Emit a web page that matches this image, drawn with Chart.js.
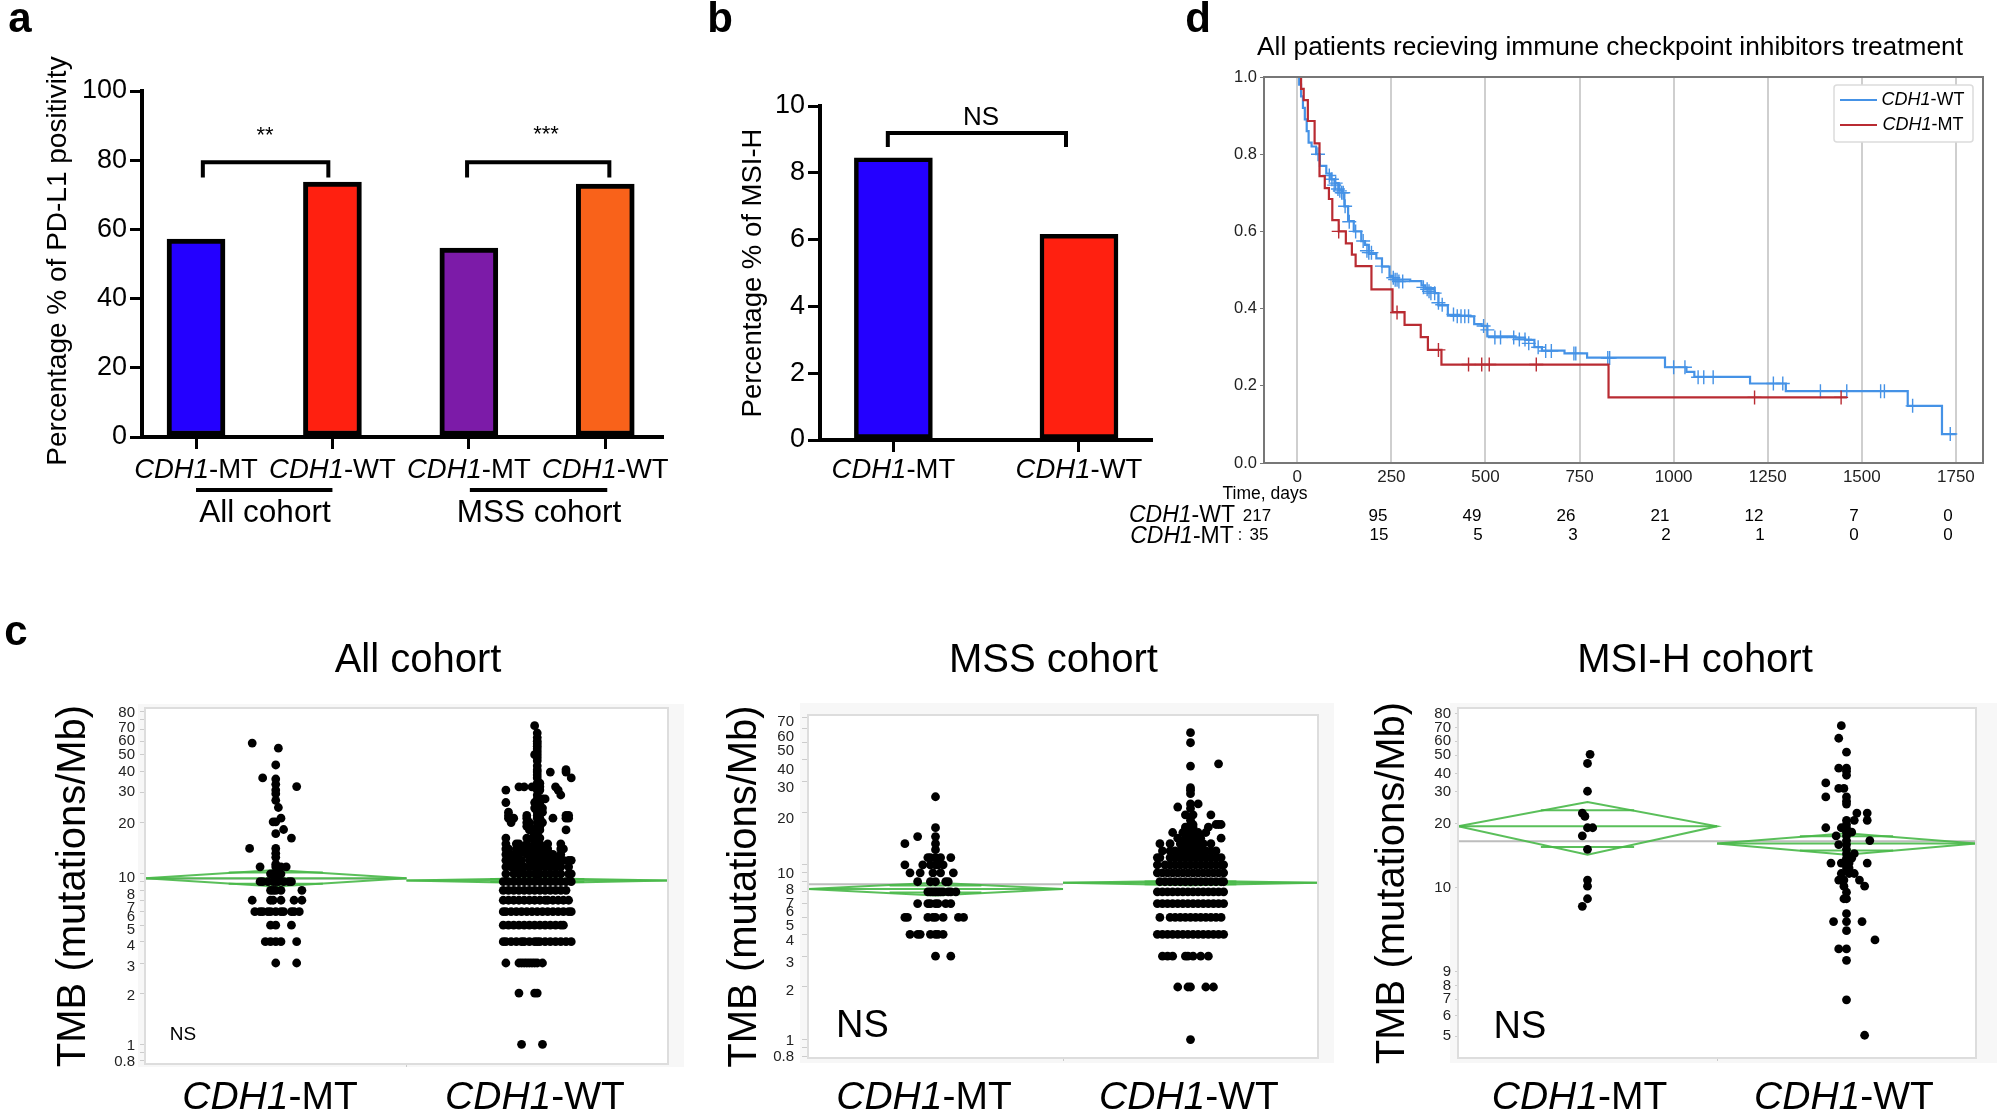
<!DOCTYPE html>
<html><head><meta charset="utf-8">
<script src="https://cdn.jsdelivr.net/npm/chart.js@4"></script>
<style>html,body{margin:0;padding:0;background:#fff;width:2000px;height:1114px;overflow:hidden}canvas{position:absolute;display:block}</style>
</head><body>
<script>
// ---------- data ----------
const genotypes = ['CDH1-MT','CDH1-WT'];
const pdl1Categories = ['CDH1-MT','CDH1-WT','CDH1-MT','CDH1-WT'];
const pdl1Values = [57.2,73.7,54.6,73.1];
const pdl1Cohorts = ['All cohort','MSS cohort'];
const msiValues = [8.45,6.16];
const pdl1Ticks = [0,20,40,60,80,100];
const msiTicks = [0,2,4,6,8,10];

const kmTicksX = [0,250,500,750,1000,1250,1500,1750];
const kmTicksY = [0,0.2,0.4,0.6,0.8,1];
const wtTime = [0,5,10,15,20,25,30,38,50,60,77,90,100,110,120,125,135,150,170,180,190,210,225,245,255,300,330,340,365,375,400,460,470,490,505,580,605,630,650,710,770,977,1034,1055,1203,1298,1622,1713,1750];
const wtSurv = [1,.98,.95,.92,.89,.86,.83,.82,.80,.77,.75,.735,.725,.707,.70,.665,.627,.60,.575,.565,.542,.53,.509,.485,.475,.471,.46,.453,.44,.408,.382,.38,.36,.355,.328,.325,.319,.30,.291,.284,.273,.248,.236,.223,.206,.186,.148,.075,.075];
const mtTime = [0,7,10,17,28,46,59,73,84,93,110,129,145,155,197,253,285,328,347,383,827,1460];
const mtSurv = [1,1,.969,.94,.886,.828,.743,.712,.684,.629,.60,.569,.54,.51,.45,.391,.358,.326,.293,.255,.17,.17];
const wtCensorT = [55,85,92,98,102,108,113,118,122,127,138,155,175,185,190,197,225,255,260,265,270,280,335,345,350,355,365,375,385,415,425,435,445,455,495,505,525,540,575,590,605,615,640,660,675,735,740,825,830,1000,1030,1065,1080,1105,1265,1290,1390,1460,1550,1560,1635,1735];
const wtCensorS = [.80,.745,.735,.72,.725,.71,.705,.70,.70,.665,.625,.60,.575,.55,.545,.545,.51,.48,.475,.475,.47,.47,.455,.45,.445,.44,.44,.415,.41,.385,.38,.38,.38,.38,.355,.345,.325,.325,.325,.32,.32,.31,.30,.29,.29,.284,.284,.272,.272,.248,.248,.222,.222,.222,.206,.206,.186,.186,.186,.186,.148,.075];
const mtCensorT = [110,265,375,455,490,510,635,1215,1445];
const mtCensorS = [.60,.39,.293,.255,.255,.255,.255,.17,.17];
const riskWT = ['217','95','49','26','21','12','7','0'];
const riskMT = ['35','15','5','3','2','1','0','0'];

const tmbTicksAll = [0.8,0.9,1,2,3,4,5,6,7,8,9,10,20,30,40,50,60,70,80,90];
const tmbTicksMss = [0.8,0.9,1,2,3,4,5,6,7,8,9,10,20,30,40,50,60,70];
const tmbTicksMsi = [2.01,2.51,3,3.47,4.03,10,20,28.3,34.5,42.1,49,56.9,66];
const tmbLabelsMsi = ['5','6','7','8','9','10','20','30','40','50','60','70','80'];

// [value, horizontal jitter in hundredths of a column]
const allMT = [[58.5,[-9]],[54.6,[1]],[43.5,[0]],[36.5,[-5]],[36,[0]],[33.5,[0]],[32.5,[8]],[31,[0]],[29.5,[0]],[27,[0]],[24.5,[1]],[21.2,[2]],[20.2,[0,-1]],[18.2,[3]],[17.2,[0]],[16.2,[6]],[14.1,[-10,0]],[13.2,[0]],[12.5,[0]],[11.4,[0]],[11,[-6,0,2,4]],[10,[-2,0,2,-1,1]],[9,[-6,-5,-3,-1,0,1,3,5,6]],[8,[-2,-1,0,2,10]],[7,[-9,-2,-1,2,7,10]],[6,[-8,-6,-5,-3,-2,0,2,3,6,7,9]],[5,[-2,0,6]],[4,[-4,-2,0,2,8]],[3,[0,8]]];
const allWT = [[1,[-6,2]],[2,[-7,-1,0]],[3,[-12,-7,-6,-5,-4,-3,-2,-1,0,2]],
[4,[-13,-12,-10,-8,-6,-5,-3,-1,0,1,3,5,7,9,11,13]],[5,[-13,-11,-9,-7,-5,-3,-1,1,3,5,7,9,10]],
[6,[-13,-12,-10,-8,-6,-4,-2,0,2,4,6,8,10,12,13]],[7,[-13,-11,-9,-7,-5,-3,-1,1,3,4,6,8,10,12]],
[8,[-13,-11,-9,-7,-5,-3,-1,1,3,5,7,9,11]],[9,[-13,-11,-9,-7,-5,-3,-1,1,3,5,7,9,11,13]],
[10,[-12,-9,-7,-5,-3,-1,0,1,3,5,7,9,12,13]],[11,[-12,-10,-8,-6,-5,-3,-1,0,1,3,5,7,9,12]],
[12,[-12,-11,-9,-7,-6,-3,-2,0,1,3,5,7,8,10,12,13]],[13,[-12,-10,-8,-7,-4,-2,0,1,3,5,6,9]],
[14,[-12,-11,-8,-6,-4,-2,0,2,4,9,10]],[15,[-12,-8,-7,-4,-1,0,1,4,9]],[16.2,[-12,-4,-2,0,1]],[17,[-1,0]],
[18.1,[-3,-1,0,1,11]],[19,[-4,-3,0,1]],[20,[-10,-4,-3,0,1,2]],[21.2,[-11,-9,-4,0,1,6,11,12]],[22,[-11,-4,0,11,12]],
[23,[-11,0,1,2]],[24.3,[-1,0,1,2]],[26.2,[-12,-1,0,1]],[27.5,[0,1,2,3]],[29,[9,0]],[31,[8,0,1,-12]],[32.4,[-7,-5,-2,0,1,7]],
[34,[0,1]],[36.5,[0,13]],[38,[0]],[39.5,[0,5,11]],[40.8,[0,11]],[43,[0]],[46,[0]],[48,[0]],[50,[-1,0]],[52,[0]],[54,[0]],[56,[0]],[58,[0]],[60,[0]],[63,[0]],[67,[0]],[74,[-1]]];

const mssMT = [[24.5,[0]],[16.3,[0]],[14.5,[-7,0]],[13.2,[-12,0]],[12.2,[0]],[11,[-3,0,2,6,-2]],[10,[-12,-5,-2,0,3,1]],[9,[-10,-6,-1,2,7]],[8,[-7,-2,0,4,5]],[7,[-3,-2,-1,0,1,2,3,5,6,8]],[6,[-7,-3,-2,0,1,4,6]],[5,[-12,-11,-3,-1,0,3,9,11]],[4,[-10,-7,-6,-2,0,1,3]],[3,[0,6]]];
const mssWT = [[1,[0]],[2,[-5,-1,0,6,9]],[3,[-11,-9,-7,-2,-1,1,4,7]],[4,[-13,-11,-9,-7,-5,-3,-1,1,3,5,7,9,11,13]],
[5,[-12,-8,-6,-4,-2,0,2,4,6,8,10,12]],[6,[-13,-11,-9,-7,-5,-3,-1,1,3,5,7,9,11,13]],[7,[-13,-11,-9,-7,-5,-3,-1,1,3,5,7,9,11,13]],
[8,[-12,-10,-8,-6,-4,-2,0,2,4,6,8,10,12,13]],[9,[-13,-11,-9,-7,-5,-3,-1,1,3,5,7,9,11,13]],[10,[-13,-10,-8,-6,-4,-2,0,2,4,6,8,10,12,13]],
[11,[-13,-12,-8,-6,-4,-2,0,2,4,6,8,10,12]],[12,[-11,-8,-6,-4,-3,-2,-1,0,1,2,3,4,6,8,10]],[13.2,[-12,-8,-4,-3,-2,-1,0,1,2,3,4,5,8]],
[14.2,[-5,-2,-1,0,1,2,3,4,12]],[15.3,[-7,-3,-1,0,1,3,6]],[16.4,[-2,-1,0,1,7]],[17,[0,1,10,11,12]],[18,[0]],[19.3,[-2,1,8]],[21,[0]],[21.4,[-5]],[22.3,[0,3]],[25.5,[0]],[26.7,[0]],[27.6,[0]],[36.7,[0]],[37.8,[11]],[49.9,[0]],[57,[0]]];

const msiMT = [[42.5,[1]],[38.5,[0]],[28.5,[0]],[22.5,[-2]],[21.7,[-1]],[19.2,[0,2]],[17.6,[-2]],[15.2,[0]],[10.9,[0]],[10.2,[0]],[8.9,[0]],[8.2,[-2]]];
const msiWT = [[58,[-2]],[50.6,[-3]],[43.5,[0]],[36.6,[-3,0]],[35.4,[0]],[33.9,[0]],[31.2,[-8]],[29.4,[-3,-1]],[26.8,[-8,0]],[25.6,[0]],[24.8,[0]],[22.5,[4,8]],[20.8,[3,8,0]],[19.9,[0]],[19.2,[-8,-2,0]],[18.3,[0,2]],[17.6,[-4,0]],[16.7,[9,0]],[16,[-3,0]],[15.2,[0]],[14.5,[0,3]],[13.8,[0,2]],[13.1,[-6,-2,1,8]],[12.4,[1,0]],[11.7,[-2,1,3]],[10.9,[-3,-1,5]],[10.2,[-1,7]],[9.55,[0]],[8.9,[0,-1]],[7.57,[0]],[6.95,[-5,0,6]],[6.3,[0]],[5.7,[11]],[5.17,[-3,0]],[4.57,[0]],[2.98,[0]],[2.03,[7]]];

// mean, diamond top, diamond bottom, overlap top, overlap bottom
const allDiamondMT = [9.43,10.55,8.43,10.2,8.74];
const allDiamondWT = [9.14,9.43,8.82,9.33,8.95];
const mssDiamondMT = [7.26,7.89,6.67,7.61,6.94];
const mssDiamondWT = [7.89,8.1,7.65,8.02,7.75];
const msiDiamondMT = [19.5,25.4,14.35,23.2,15.6];
const msiDiamondWT = [16.2,18.1,14.35,17.5,15];
const allGrand = 9.35, mssGrand = 7.75, msiGrand = 16.6;

// ---------- helpers ----------
const FF = '"Liberation Sans", Arial, sans-serif';
const font = (size, style='') => `${style} ${size}px ${FF}`;

function rich(ctx, text, x, y, size) {
  const k = text.indexOf('-');
  const segs = text.startsWith('CDH1') && k > 0 ? [[text.slice(0,k),true],[text.slice(k),false]] : [[text,false]];
  ctx.textBaseline = 'middle'; ctx.textAlign = 'left';
  let w = 0;
  segs.forEach(s => { ctx.font = font(size, s[1]?'italic':''); w += ctx.measureText(s[0]).width; });
  let cx = x - w/2;
  segs.forEach(s => { ctx.font = font(size, s[1]?'italic':''); ctx.fillText(s[0], cx, y); cx += ctx.measureText(s[0]).width; });
}
function plain(ctx, text, x, y, f, align='center') {
  ctx.font = f; ctx.textAlign = align; ctx.textBaseline = 'middle'; ctx.fillText(text, x, y);
}
function place(box, area, cfg, under, over) {
  const c = document.createElement('canvas');
  c.width = box.w; c.height = box.h;
  c.style.left = box.x+'px'; c.style.top = box.y+'px'; c.style.width = box.w+'px'; c.style.height = box.h+'px';
  document.body.appendChild(c);
  const o = cfg.options;
  o.responsive = false; o.animation = false; o.maintainAspectRatio = false;
  o.layout = {padding:{top:area.t-box.y, right:box.x+box.w-area.r, left:0, bottom:0}};
  o.plugins = {legend:{display:false}, tooltip:{enabled:false}};
  o.scales.y.afterFit = s => { s.width = area.l-box.x; };
  o.scales.x.afterFit = s => { s.height = box.y+box.h-area.b; };
  const wrap = fn => (chart) => { if(!fn) return; const g = chart.ctx; g.save(); g.translate(-box.x,-box.y); g.fillStyle='#000'; fn(g, chart, box); g.restore(); };
  cfg.plugins = [{id:'page', beforeDraw:wrap(under), afterDraw:wrap(over)}];
  return new Chart(c, cfg);
}
const tickSet = vals => s => { s.ticks = vals.map(v => ({value:v})); };

// ---------- panels a, b ----------
function barPanel(box, area, xRange, cats, vals, colors, thick, stroke, yTicks, yMax, title, titleFont, titlePos, brackets, over) {
  const datasets = [{type:'bar', data:vals.map((v,i)=>({x:i+1,y:v})), backgroundColor:colors, borderColor:'#000', borderWidth:stroke, borderSkipped:false, barThickness:thick, grouped:false, order:2}];
  brackets.forEach(b => datasets.push({type:'line', data:b, borderColor:'#000', borderWidth:4, pointRadius:0, fill:false, order:1, clip:false, borderCapStyle:'butt', borderJoinStyle:'miter', tension:0}));
  return place(box, area, {type:'bar', data:{datasets}, options:{scales:{
    x:{type:'linear', offset:false, min:xRange[0], max:xRange[1], afterBuildTicks:tickSet(cats.map((c,i)=>i+1)),
       ticks:{display:false}, grid:{offset:false, drawOnChartArea:false, color:'#000', lineWidth:3, tickLength:12}, border:{color:'#000', width:4}},
    y:{min:0, max:yMax, afterBuildTicks:tickSet(yTicks),
       ticks:{font:{family:FF,size:27}, color:'#000', padding:3},
       grid:{drawOnChartArea:false, color:'#000', lineWidth:3, tickLength:12}, border:{color:'#000', width:4}}
  }}}, null, (g, ch) => {
    const sx = ch.scales.x;
    cats.forEach((c,i) => rich(g, c, box.x+sx.getPixelForValue(i+1), 470, 27.5));
    g.save(); g.translate(titlePos[0],titlePos[1]); g.rotate(-Math.PI/2);
    plain(g,title,0,0,font(titleFont)); g.restore();
    over && over(g, ch);
  });
}
const pt = (xs, ys) => xs.map((x,i)=>({x, y:ys[i]}));

barPanel({x:0,y:0,w:700,h:530},{l:142,t:91,r:662,b:437},[0.604,4.416],pdl1Categories,pdl1Values,['#2400ff','#ff2010','#7c1ba8','#f9621a'],58,5,pdl1Ticks,100,
  'Percentage % of PD-L1 positivity',28,[58,261],
  [pt([1.05,1.05,1.97,1.97],[75,79.4,79.4,75]), pt([2.987,2.987,4.03,4.03],[75,79.4,79.4,75])],
  (g,ch) => {
    const sx = ch.scales.x, p = v => sx.getPixelForValue(v);
    plain(g,'a',20,20,font(42,'bold'));
    plain(g,'**',265,136,font(22));
    plain(g,'***',546,135,font(22));
    g.fillRect(p(1),488,p(2)-p(1),4);
    g.fillRect(p(3)+1,488,p(4)-p(3)+1,4);
    rich(g,pdl1Cohorts[0],265,513,31.5);
    rich(g,pdl1Cohorts[1],539,513,31.5);
  });
barPanel({x:700,y:0,w:460,h:530},{l:820,t:106,r:1151,b:440},[0.6046,2.388],genotypes,msiValues,['#2400ff','#ff2010'],78,4.5,msiTicks,10,
  'Percentage % of MSI-H',27.5,[753,273],
  [pt([0.97,0.97,1.93,1.93],[8.77,9.19,9.19,8.77])],
  (g) => {
    plain(g,'b',720,20,font(42,'bold'));
    plain(g,'NS',981,118,font(26));
  });

// ---------- panel d ----------
const KM_BLUE = '#4592e6', KM_RED = '#b92b32';
place({x:1125,y:0,w:875,h:545},{l:1264,t:77,r:1983,b:463},{type:'scatter', data:{datasets:[
  {data:pt(mtCensorT,mtCensorS), pointStyle:'cross', pointRadius:7, pointBorderColor:KM_RED, pointBorderWidth:1.4, backgroundColor:'transparent', order:1},
  {data:pt(mtTime,mtSurv), showLine:true, stepped:true, pointRadius:0, borderColor:KM_RED, borderWidth:2.2, order:2},
  {data:pt(wtCensorT,wtCensorS), pointStyle:'cross', pointRadius:7, pointBorderColor:KM_BLUE, pointBorderWidth:1.4, backgroundColor:'transparent', order:3},
  {data:pt(wtTime,wtSurv), showLine:true, stepped:true, pointRadius:0, borderColor:KM_BLUE, borderWidth:2.2, order:4}
]}, options:{scales:{
  x:{type:'linear', min:-88.5, max:1822, afterBuildTicks:tickSet(kmTicksX),
     ticks:{font:{family:FF,size:17}, color:'#222', padding:4, callback:v=>String(v)},
     grid:{color:'#cfcfcf', lineWidth:2, drawTicks:false, tickLength:0}, border:{color:'#777', width:2}},
  y:{min:0, max:1, afterBuildTicks:tickSet(kmTicksY),
     ticks:{font:{family:FF,size:16.5}, color:'#222', padding:3, callback:v=>Number(v).toFixed(1)},
     grid:{drawOnChartArea:false, color:'#777', lineWidth:1, tickLength:4}, border:{color:'#777', width:2}}
}}}, null, (g, ch) => {
  const a = ch.chartArea;
  g.strokeStyle = '#777'; g.lineWidth = 2; g.strokeRect(a.left+1125, a.top, a.right-a.left, a.bottom-a.top);
  g.fillStyle='#000';
  plain(g,'d',1198,20,font(42,'bold'));
  plain(g,'All patients recieving immune checkpoint inhibitors treatment',1610,48,font(26.3));
  g.fillStyle='#fff'; g.strokeStyle='#dcdcdc'; g.lineWidth=1.5;
  g.beginPath(); g.roundRect(1834,85,139,57,3); g.fill(); g.stroke();
  g.lineWidth=2;
  g.strokeStyle=KM_BLUE; g.beginPath(); g.moveTo(1840,100); g.lineTo(1877,100); g.stroke();
  g.strokeStyle=KM_RED; g.beginPath(); g.moveTo(1840,125); g.lineTo(1877,125); g.stroke();
  g.fillStyle='#000';
  rich(g,genotypes[1],1923,100,18);
  rich(g,genotypes[0],1923,125,18);
  plain(g,'Time, days',1265,494,font(17.5));
  rich(g,genotypes[1],1182,516,23);
  rich(g,genotypes[0],1182,537,23);
  plain(g,':',1240,536,font(16));
  const xW=[1257,1378,1472,1566,1660,1754,1854,1948], xM=[1259,1379,1478,1573,1666,1760,1854,1948];
  riskWT.forEach((t,i)=>plain(g,t,xW[i],516,font(17)));
  riskMT.forEach((t,i)=>plain(g,t,xM[i],535,font(17)));
});

// ---------- panels c ----------
const GREEN = 'rgba(72,184,72,.9)';
function dots(col, rows){ const out=[]; rows.forEach(r=>r[1].forEach(o=>out.push({x:col+o/100,y:r[0]}))); return out; }
function diamond(col, d, lw){
  const L = a => ({data:a, showLine:true, pointRadius:0, borderColor:GREEN, borderWidth:lw, order:5, tension:0});
  return [
    L([{x:col-.5,y:d[0]},{x:col,y:d[1]},{x:col+.5,y:d[0]},{x:col,y:d[2]},{x:col-.5,y:d[0]}]),
    L([{x:col-.5,y:d[0]},{x:col+.5,y:d[0]}]),
    L([{x:col-.18,y:d[3]},{x:col+.18,y:d[3]}]),
    L([{x:col-.18,y:d[4]},{x:col+.18,y:d[4]}])
  ];
}
function tmbPanel(p){
  const a=p.area, bx=p.box;
  place(bx, a, {type:'scatter', data:{datasets:[
    {data:dots(1,p.mt), pointRadius:4.4, backgroundColor:'#000', borderWidth:0, order:1},
    {data:dots(2,p.wt), pointRadius:4.4, backgroundColor:'#000', borderWidth:0, order:1},
    ...diamond(1,p.dMT,2), ...diamond(2,p.dWT,2),
    {data:[{x:p.grandEnd[0],y:p.grand},{x:p.grandEnd[1],y:p.grand}], showLine:true, pointRadius:0, borderColor:'#bdbdbd', borderWidth:2, order:6}
  ]}, options:{scales:{
    x:{type:'linear', min:.5, max:2.5, afterBuildTicks:tickSet([1.5]), ticks:{display:false},
       grid:{drawOnChartArea:false, color:'#ccc', lineWidth:1, tickLength:3}, border:{color:'#ddd', width:2}},
    y:{type:'logarithmic', bounds:'data', min:p.range[0], max:p.range[1], afterBuildTicks:tickSet(p.ticks),
       ticks:{display:false},
       title:{display:true, text:'TMB (mutations/Mb)', color:'#000', font:{family:FF,size:40}, padding:{top:p.titlePad,bottom:0}},
       grid:{drawOnChartArea:false, color:'#ccc', lineWidth:1, tickLength:p.tick}, border:{color:'#ddd', width:2}}
  }}}, (g) => {
    g.fillStyle='#f7f7f7'; g.fillRect(p.bg[0],p.bg[1],p.bg[2]-p.bg[0],p.bg[3]-p.bg[1]);
    g.fillStyle='#fff'; g.fillRect(a.l,a.t,a.r-a.l,a.b-a.t);
  }, (g, ch) => {
    g.strokeStyle='#ddd'; g.lineWidth=2; g.strokeRect(a.l,a.t,a.r-a.l,a.b-a.t);
    g.fillStyle='#000';
    // the reference's axis labels sit slightly off their tick marks
    p.ticks.forEach((v,i)=>{ if(p.labels[i]) { g.fillStyle='#222'; plain(g,p.labels[i],a.l-p.tick-p.pad,bx.y+ch.scales.y.getPixelForValue(v)+(p.nudge[i]||0),font(15),'right'); }});
    g.fillStyle='#000';
    plain(g,p.title,p.titleX,661,font(40));
    rich(g,genotypes[0],p.labelX[0],1098,39);
    rich(g,genotypes[1],p.labelX[1],1098,39);
    plain(g,'NS',p.ns[0],p.ns[1],font(p.ns[2]));
    p.extra && p.extra(g);
  });
}
const lab = t => t.map(v => [0.9,9,90].includes(v) ? '' : String(v));
tmbPanel({box:{x:0,y:620,w:700,h:494},area:{l:145,t:708,r:668,b:1064},bg:[138,704,684,1067],range:[0.767,93.9],
  ticks:tmbTicksAll,labels:lab(tmbTicksAll),pad:5,tick:5,nudge:[1,0,2,3,4,4,5,5,8,4,0,4,1,-1,1,0,0,-2,-7,0],titlePad:50,title:'All cohort',titleX:418,labelX:[270,535],
  ns:[183,1035,19],mt:allMT,wt:allWT,dMT:allDiamondMT,dWT:allDiamondWT,grand:allGrand,grandEnd:[.5,1.5],
  extra:g=>plain(g,'c',16,633,font(42,'bold'))});
tmbPanel({box:{x:700,y:620,w:660,h:494},area:{l:808,t:715,r:1318,b:1058},bg:[800,703,1334,1063],range:[0.785,71.9],
  ticks:tmbTicksMss,labels:lab(tmbTicksMss),pad:8,tick:6,nudge:[0,0,1,4,7,7,8,8,12,8,0,9,7,6,10,8,8,5],titlePad:21,title:'MSS cohort',titleX:1053.5,labelX:[924,1189],
  ns:[862.5,1027,38],mt:mssMT,wt:mssWT,dMT:mssDiamondMT,dWT:mssDiamondWT,grand:mssGrand,grandEnd:[.5,1.5]});
tmbPanel({box:{x:1340,y:620,w:660,h:494},area:{l:1458,t:708,r:1976,b:1058},bg:[1450,703,1997,1063],range:[1.587,70.2],
  ticks:tmbTicksMsi,labels:tmbLabelsMsi,pad:4,tick:3,nudge:[],titlePad:29,title:'MSI-H cohort',titleX:1695,labelX:[1579.5,1844],
  ns:[1520,1028,38],mt:msiMT,wt:msiWT,dMT:msiDiamondMT,dWT:msiDiamondWT,grand:msiGrand,grandEnd:[.5,2.5]});
</script>
</body></html>
